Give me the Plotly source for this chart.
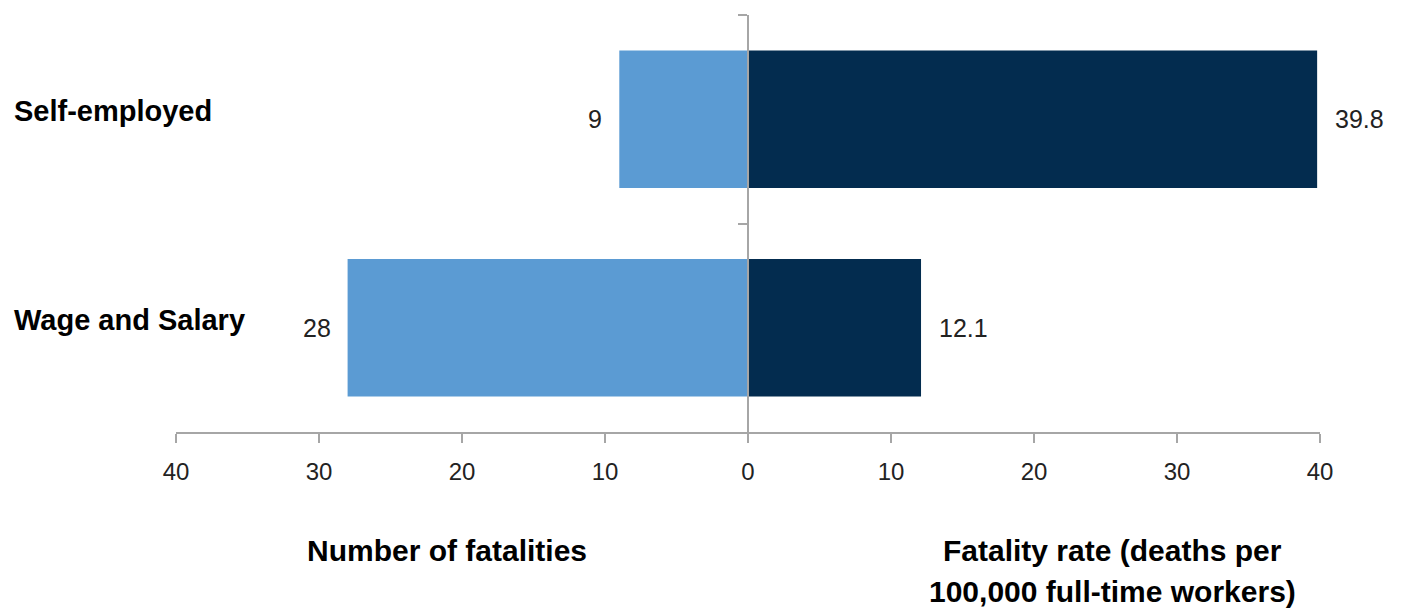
import plotly.graph_objects as go

# Worker class categories (top to bottom) and their values
categories = ["Self-employed", "Wage and Salary"]
fatalities = [9, 28]          # number of fatalities (drawn to the left)
fatality_rate = [39.8, 12.1]  # deaths per 100,000 full-time workers (drawn to the right)
tick_values = [-40, -30, -20, -10, 0, 10, 20, 30, 40]
tick_labels = ["40", "30", "20", "10", "0", "10", "20", "30", "40"]

LIGHT = "#5b9bd3"
DARK = "#032c4f"
FONT = "Liberation Sans, Arial, sans-serif"

# numeric category positions: first category on top
ypos = [len(categories) - 1 - i for i in range(len(categories))]

fig = go.Figure()
fig.add_trace(go.Bar(
    y=ypos, x=[-v for v in fatalities], orientation="h",
    marker=dict(color=LIGHT, line=dict(width=0)), width=0.66,
    hoverinfo="skip", showlegend=False,
))
fig.add_trace(go.Bar(
    y=ypos, x=fatality_rate, orientation="h",
    marker=dict(color=DARK, line=dict(width=0)), width=0.66,
    hoverinfo="skip", showlegend=False,
))

annotations = []
for y, n, r, name in zip(ypos, fatalities, fatality_rate, categories):
    annotations.append(dict(x=-n, y=y, xref="x", yref="y", text=str(n),
                            showarrow=False, xanchor="right", xshift=-15,
                            font=dict(family=FONT, size=25, color="#222222")))
    annotations.append(dict(x=r, y=y, xref="x", yref="y", text=f"{r:.1f}",
                            showarrow=False, xanchor="left", xshift=16,
                            font=dict(family=FONT, size=25, color="#222222")))
    annotations.append(dict(x=-164 / 1144, y=y, xref="paper", yref="y",
                            text=f"<b>{name}</b>", showarrow=False, xanchor="left",
                            yshift=8,
                            font=dict(family=FONT, size=29, color="#000000")))

# axis titles for the two halves
TITLE_FONT = dict(family=FONT, size=30, color="#000000")
annotations.append(dict(x=-21.05, y=-0.5, xref="x", yref="y", yshift=-118,
                        text="<b>Number of fatalities</b>", showarrow=False,
                        xanchor="center", yanchor="middle", font=TITLE_FONT))
annotations.append(dict(x=25.5, y=-0.5, xref="x", yref="y", yshift=-118,
                        text="<b>Fatality rate (deaths per</b>", showarrow=False,
                        xanchor="center", yanchor="middle", font=TITLE_FONT))
annotations.append(dict(x=25.5, y=-0.5, xref="x", yref="y", yshift=-159,
                        text="<b>100,000 full-time workers)</b>", showarrow=False,
                        xanchor="center", yanchor="middle", borderpad=0,
                        font=TITLE_FONT))

fig.update_layout(
    width=1401, height=610,
    margin=dict(l=176, r=81, t=15, b=178),
    paper_bgcolor="white", plot_bgcolor="white",
    barmode="overlay",
    annotations=annotations,
    xaxis=dict(
        range=[-40, 40], tickvals=tick_values, ticktext=tick_labels,
        showgrid=False, zeroline=False, showline=True, linecolor="#a6a6a6",
        linewidth=2, ticks="outside", ticklen=9, tickwidth=2, tickcolor="#a6a6a6",
        tickfont=dict(family=FONT, size=24, color="#222222"),
        ticklabelstandoff=8,
        fixedrange=True,
    ),
    yaxis=dict(
        range=[-0.5, 1.5], anchor="free", position=0.5,
        showgrid=False, zeroline=False, showline=True, linecolor="#a6a6a6",
        linewidth=2, ticks="outside", ticklen=9, tickwidth=2, tickcolor="#a6a6a6",
        tickvals=[0.5, 1.5], showticklabels=False, fixedrange=True,
    ),
)

fig.write_html("out.html")
